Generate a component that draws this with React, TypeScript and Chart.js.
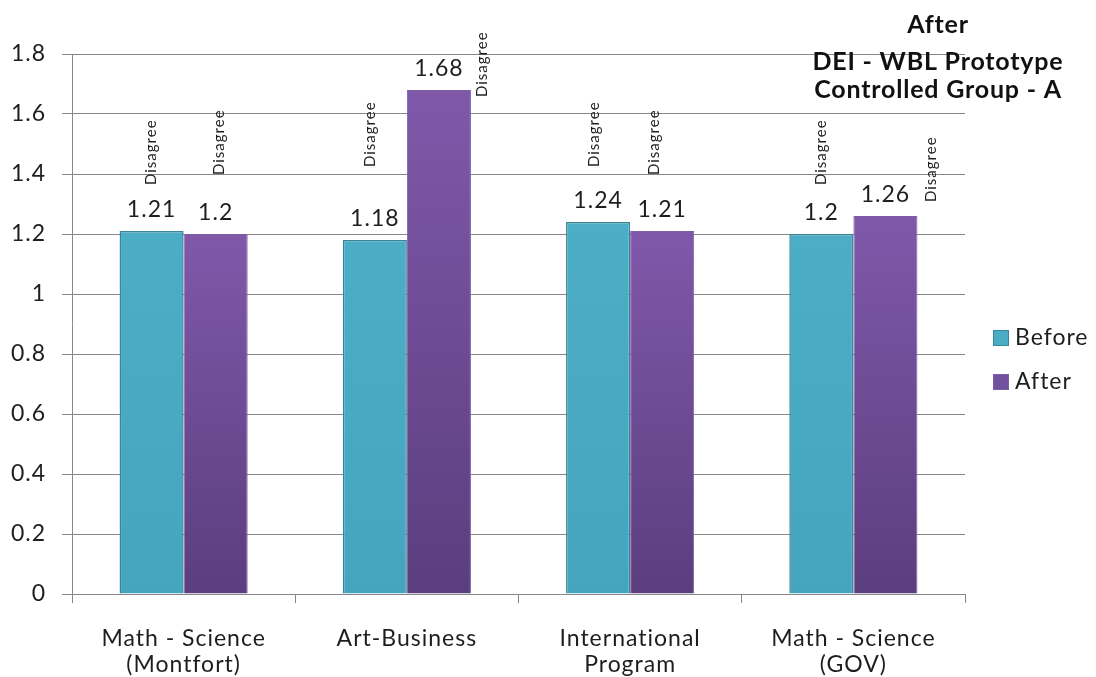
import { useEffect, useRef } from "react";
import { Chart, registerables } from "chart.js";

Chart.register(...registerables);

// ---- data ----
const categories: string[][] = [
  ["Math - Science", "(Montfort)"],
  ["Art-Business"],
  ["International", "Program"],
  ["Math - Science", "(GOV)"],
];
const seriesNames = ["Before", "After"];
const beforeValues = [1.21, 1.18, 1.24, 1.2];
const afterValues = [1.2, 1.68, 1.21, 1.26];
const noteText = "Disagree";
const titleLines = ["After", "DEI - WBL Prototype", "Controlled Group - A"];
const yMin = 0;
const yMax = 1.8;
const yStep = 0.2;

// ---- layout / style (not data) ----
const FONT = "Lato, 'Open Sans', sans-serif";
const TEXT = "#1e1e1e";
const GRID = "#878787";
// [dx, lift above bar top] for each rotated note, per series, per category
const NOTE_NUDGE: number[][][] = [
  [[0, 46], [-5, 73], [-4, 55], [0, 49]],
  [[3, 59], [43, -7], [-8, 56], [46, 14]],
];

const COLORS = [
  { top: "#4cadc7", bottom: "#45a5be", border: "#3a8699", legend: "#4bacc6" },
  { top: "#8058aa", bottom: "#5b3e7e", border: "#7d5ea6", legend: "#7150a0" },
];

function gradientFor(idx: number) {
  return (ctx: any) => {
    const chart = ctx.chart;
    const c = COLORS[idx];
    if (ctx.type !== "data" || !chart.scales || !chart.scales.y) return c.top;
    const ys = chart.scales.y;
    const top = ys.getPixelForValue(ctx.parsed ? ctx.parsed.y : ctx.raw);
    const bottom = ys.getPixelForValue(0);
    if (!isFinite(top) || !isFinite(bottom) || top === bottom) return c.top;
    const g = chart.ctx.createLinearGradient(0, top, 0, bottom);
    g.addColorStop(0, c.top);
    g.addColorStop(1, c.bottom);
    return g;
  };
}

const labelPlugin = {
  id: "labelsAndTitle",
  beforeDraw(chart: any) {
    (chart.ctx as any).letterSpacing = "1px";
  },
  afterDatasetsDraw(chart: any) {
    const ctx = chart.ctx as CanvasRenderingContext2D;
    chart.data.datasets.forEach((ds: any, di: number) => {
      const meta = chart.getDatasetMeta(di);
      meta.data.forEach((bar: any, i: number) => {
        const v = ds.data[i];
        ctx.save();
        ctx.fillStyle = TEXT;
        ctx.font = `23px ${FONT}`;
        (ctx as any).letterSpacing = "1px";
        ctx.textAlign = "center";
        ctx.textBaseline = "alphabetic";
        ctx.fillText(String(v), bar.x, bar.y - 14);
        ctx.restore();

        const [dx, lift] = NOTE_NUDGE[di][i];
        ctx.save();
        ctx.fillStyle = TEXT;
        ctx.font = `15px ${FONT}`;
        (ctx as any).letterSpacing = "1px";
        ctx.translate(bar.x + dx, bar.y - lift);
        ctx.rotate(-Math.PI / 2);
        ctx.textAlign = "left";
        ctx.textBaseline = "middle";
        ctx.fillText(noteText, 0, 0);
        ctx.restore();
      });
    });
  },
  afterDraw(chart: any) {
    const ctx = chart.ctx as CanvasRenderingContext2D;
    const area = chart.chartArea;
    // title block (top right)
    ctx.save();
    ctx.fillStyle = "#111";
    ctx.font = `bold 25px ${FONT}`;
    (ctx as any).letterSpacing = "0.8px";
    ctx.textAlign = "center";
    ctx.textBaseline = "alphabetic";
    const cx = area.right - 27;
    const baselines = [33, 70, 98];
    titleLines.forEach((t, k) => ctx.fillText(t, cx, baselines[k]));
    ctx.restore();

    // legend (right)
    ctx.save();
    const lx = area.right + 28;
    const ly0 = (area.top + area.bottom) / 2 + 14;
    chart.data.datasets.forEach((ds: any, di: number) => {
      const cy = ly0 + di * 44;
      ctx.fillStyle = COLORS[di].legend;
      ctx.fillRect(lx, cy - 8, 16, 16);
      ctx.strokeStyle = COLORS[di].border;
      ctx.lineWidth = 1;
      ctx.strokeRect(lx + 0.5, cy - 7.5, 15, 15);
      ctx.fillStyle = TEXT;
      ctx.font = `23px ${FONT}`;
      (ctx as any).letterSpacing = "1px";
      ctx.textAlign = "left";
      ctx.textBaseline = "middle";
      ctx.fillText(ds.label, lx + 22, cy);
    });
    ctx.restore();
    (ctx as any).letterSpacing = "0px";
  },
};

export default function App() {
  const ref = useRef<HTMLCanvasElement | null>(null);
  useEffect(() => {
    if (!ref.current) return;
    const chart = new Chart(ref.current, {
      type: "bar",
      data: {
        labels: categories,
        datasets: [
          {
            label: seriesNames[0],
            data: beforeValues,
            backgroundColor: gradientFor(0) as any,
            borderColor: COLORS[0].border,
            borderWidth: 1.5,
            categoryPercentage: 0.574,
            barPercentage: 1,
          },
          {
            label: seriesNames[1],
            data: afterValues,
            backgroundColor: gradientFor(1) as any,
            borderColor: COLORS[1].border,
            borderWidth: 1,
            categoryPercentage: 0.574,
            barPercentage: 1,
          },
        ],
      },
      options: {
        animation: false,
        responsive: false,
        layout: { padding: { left: 0, top: 54, right: 131, bottom: 0 } },
        plugins: {
          legend: { display: false },
          tooltip: { enabled: false },
          title: { display: false },
        },
        scales: {
          x: {
            grid: {
              display: true,
              drawOnChartArea: false,
              drawTicks: true,
              tickLength: 9,
              color: GRID,
              offset: true,
            },
            border: { color: GRID, width: 1 },
            ticks: {
              color: TEXT,
              font: { family: FONT, size: 23, lineHeight: 1.15 },
              padding: 22,
              maxRotation: 0,
              autoSkip: false,
            },
            afterFit: (s: any) => {
              s.height = 83;
            },
          },
          y: {
            min: yMin,
            max: yMax,
            grid: { color: GRID, tickLength: 10, lineWidth: 1 },
            border: { color: GRID, width: 1 },
            ticks: {
              stepSize: yStep,
              color: TEXT,
              font: { family: FONT, size: 23 },
              padding: 16,
              callback: (v: any) => String(Math.round(Number(v) * 10) / 10),
            },
            afterFit: (s: any) => {
              s.width = 72;
            },
          },
        },
      },
      plugins: [labelPlugin],
    });
    return () => chart.destroy();
  }, []);
  return (
    <div style={{ position: "absolute", left: 0, top: 0, width: 1096, height: 677, background: "#fff" }}>
      <canvas ref={ref} width={1096} height={677} style={{ display: "block" }} />
    </div>
  );
}
